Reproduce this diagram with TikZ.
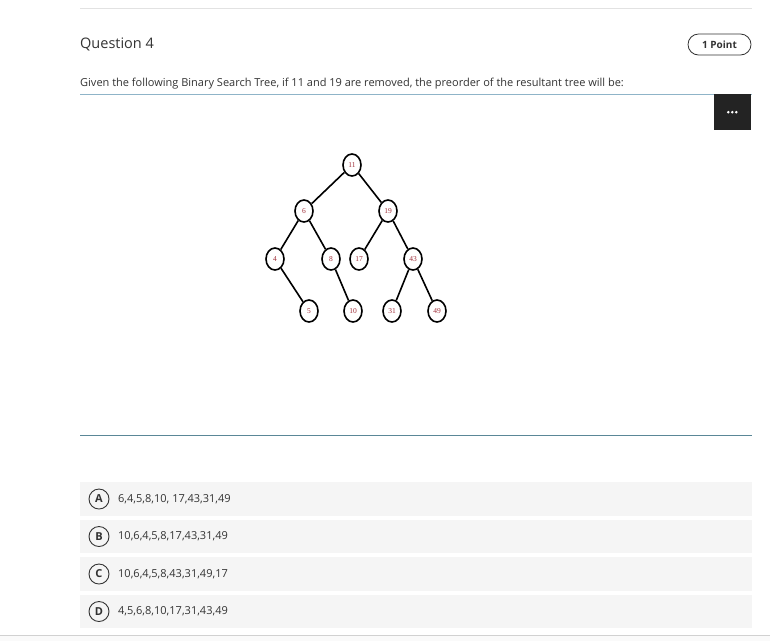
\documentclass[tikz,border=0pt]{standalone}
\usepackage{fontspec}
\setmainfont{Open Sans}
\newfontfamily\treefont{Liberation Serif}
\usetikzlibrary{shapes.geometric,calc}
\definecolor{rulegray}{HTML}{E2E2E2}
\definecolor{optfill}{HTML}{F5F5F5}
\definecolor{bluerule}{HTML}{5A8797}
\definecolor{qline}{HTML}{8FB4C8}
\definecolor{darkbox}{HTML}{232323}
\definecolor{txt}{HTML}{333333}
\definecolor{treered}{HTML}{A0303A}
\tikzset{
  tnode/.style={draw=black, line width=1.6pt, ellipse, minimum width=18pt, minimum height=22pt, inner sep=0pt, fill=white, font=\treefont\fontsize{7.5}{8}\selectfont, text=treered},
  tedge/.style={line width=1.6pt, black},
  letter/.style={circle, draw=txt, line width=0.9pt, minimum size=20pt, inner sep=0pt, font=\fontsize{11}{11}\selectfont\bfseries, text=txt},
  opttext/.style={anchor=west, font=\fontsize{11}{11}\selectfont, text=txt, inner sep=0pt}
}
\begin{document}
\begin{tikzpicture}[x=1pt,y=-1pt]
\useasboundingbox[fill=white] (0,0) rectangle (770,641);
% top rule
\draw[rulegray, line width=1pt] (80,8) -- (752,8);
% title
\node[anchor=west, inner sep=0pt, font=\fontsize{14.5}{15}\selectfont, text=txt] (title) at (80,44) {Question 4};
\node[draw=txt, rounded corners=10.5pt, minimum width=63pt, minimum height=21pt, inner sep=0pt, font=\fontsize{10}{10}\selectfont\bfseries, text=txt, line width=0.8pt] (pts) at (719.5,44.5) {1 Point};
% question
\node[anchor=west, inner sep=0pt, font=\fontsize{11}{11}\selectfont, text=txt] (q) at (80,84) {Given the following Binary Search Tree, if 11 and 19 are removed, the preorder of the resultant tree will be:};
\draw[qline, line width=1pt] (80,94) -- (752,94);
\node[fill=darkbox, minimum width=37pt, minimum height=36pt, inner sep=0pt, anchor=north east] (menu) at (751,94) {};
\foreach \dx in {-4,0,4} \fill[white] ($(menu.center)+(\dx,0)$) circle (1.4pt);
% tree
\node[tnode] (n11) at (352,165) {11};
\node[tnode] (n6) at (304,211) {6};
\node[tnode] (n19) at (388,211) {19};
\node[tnode] (n4) at (275,259) {4};
\node[tnode] (n8) at (331,259) {8};
\node[tnode] (n17) at (359,259) {17};
\node[tnode] (n43) at (413,259) {43};
\node[tnode] (n5) at (309,311) {5};
\node[tnode] (n10) at (353,311) {10};
\node[tnode] (n31) at (392,311) {31};
\node[tnode] (n49) at (437,311) {49};
\draw[tedge] (n11) -- (n6);
\draw[tedge] (n11) -- (n19);
\draw[tedge] (n6) -- (n4);
\draw[tedge] (n6) -- (n8);
\draw[tedge] (n19) -- (n17);
\draw[tedge] (n19) -- (n43);
\draw[tedge] (n4) -- (n5);
\draw[tedge] (n8) -- (n10);
\draw[tedge] (n43) -- (n31);
\draw[tedge] (n43) -- (n49);
% blue rule
\draw[bluerule, line width=1pt] (80,435) -- (752,435);
% options
\fill[optfill] (80,482) rectangle (752,516);
\fill[optfill] (80,520) rectangle (752,553);
\fill[optfill] (80,557) rectangle (752,591);
\fill[optfill] (80,595) rectangle (752,628);
\node[letter] (la) at (99,499) {A};
\node[letter] (lb) at (99,536.5) {B};
\node[letter] (lc) at (99,574) {C};
\node[letter] (ld) at (99,611.5) {D};
\node[opttext] (ta) at (118,499) {6,4,5,8,10, 17,43,31,49};
\node[opttext] (tb) at (118,536.5) {10,6,4,5,8,17,43,31,49};
\node[opttext] (tc) at (118,574) {10,6,4,5,8,43,31,49,17};
\node[opttext] (td) at (118,611.5) {4,5,6,8,10,17,31,43,49};
% bottom rule
\fill[black!2] (0,635) rectangle (770,641);
\draw[black!18, line width=1pt] (0,635) -- (770,635);
\end{tikzpicture}
\end{document}
